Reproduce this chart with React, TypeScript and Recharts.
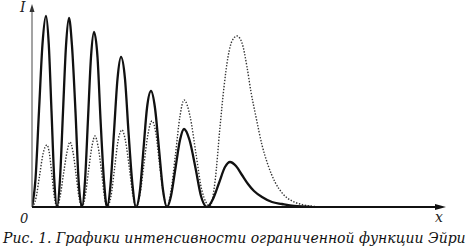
import type { JSX } from "react";

import { Line, LineChart, XAxis, YAxis } from "recharts";

// solid curve: positions along x and intensity
const solidX = [
	0, 3.5, 7, 10.5, 14, 16.75, 19.5, 22.25, 25,
	28, 31, 34, 37, 40, 43.5, 46.5, 50,
	53, 56, 59, 62, 65.5, 68.5, 72, 75,
	78.5, 82, 85.5, 89, 93, 96.5, 100.5, 104,
	108, 111.5, 115, 119, 123, 127, 131, 135,
	139, 143.5, 148, 152, 157.5, 163.5, 169, 175,
	181, 187, 193, 198, 204, 210, 216, 222, 230, 240, 250, 262, 280,
];
const solidI = [
	0, 28, 96, 163, 191, 163, 96, 28, 0,
	28, 95, 161, 189, 161, 95, 28, 0,
	26, 88, 150, 175, 150, 88, 26, 0,
	22, 75, 128, 150, 128, 75, 22, 0,
	17, 58, 99, 116, 99, 58, 17, 0,
	11, 39, 67, 78, 67, 39, 11, 0,
	8, 24, 40, 45, 41, 32, 23, 16, 10, 5, 3, 1, 0,
];

// dotted curve
const dottedX = [
	0, 4, 7.5, 11, 15, 17.5, 20, 22.5, 25,
	28, 31.5, 35, 38, 41, 44, 47, 50,
	53, 56.5, 60, 63, 66, 69.5, 72.5, 75,
	79, 82.5, 86, 90, 93.5, 97.5, 101, 104,
	108, 112, 116, 120, 124, 127.5, 131.5, 135,
	139, 143.5, 148, 152, 158, 164, 170, 178,
	183, 188, 192, 196, 200, 205, 210, 215, 219, 224, 230, 236, 243, 251, 260, 268, 278, 290,
];
const dottedI = [
	0, 9, 31, 53, 62, 53, 31, 9, 0,
	10, 33, 55, 65, 55, 33, 10, 0,
	10, 36, 61, 71, 61, 36, 10, 0,
	11, 38, 66, 77, 66, 38, 11, 0,
	13, 43, 73, 86, 73, 43, 13, 0,
	16, 53, 91, 107, 91, 53, 16, 1,
	25, 80, 120, 150, 166, 171, 164, 140, 115, 90, 62, 42, 25, 13, 6, 3, 1, 0,
];

const caption = "Рис. 1. Графики интенсивности ограниченной функции Эйри";

const solidData = solidX.map((x, i) => ({ x, v: solidI[i] }));
const dottedData = dottedX.map((x, i) => ({ x, v: dottedI[i] }));

const serif = { fontFamily: "'DejaVu Serif', 'Liberation Serif', serif", fontStyle: "italic" };

export default function App(): JSX.Element {
	return (
		<div style={{ height: 251, left: 0, position: "absolute", top: 0, width: 467 }}>
			<LineChart height={251} margin={{ bottom: 44, left: 32, right: 22, top: 5 }} width={467}>
				<XAxis allowDataOverflow dataKey="x" domain={[0, 413]} hide type="number" />
				<YAxis allowDataOverflow domain={[0, 202]} hide type="number" />
				<Line
					data={dottedData}
					dataKey="v"
					dot={false}
					isAnimationActive={false}
					stroke="#333"
					strokeDasharray="1.4 1.6"
					strokeWidth={1.4}
					type="monotone"
				/>
				<Line data={solidData} dataKey="v" dot={false} isAnimationActive={false} stroke="#111" strokeWidth={2.3} type="monotone" />
			</LineChart>
			<svg height={251} style={{ left: 0, pointerEvents: "none", position: "absolute", top: 0 }} width={467}>
				<line stroke="#666" strokeWidth={1.2} x1={32} x2={32} y1={207} y2={10} />
				<polygon fill="#333" points="32,4 29.5,12 34.5,12" />
				<line stroke="#111" strokeWidth={2} x1={32} x2={438} y1={207} y2={207} />
				<polygon fill="#111" points="446,207 435,204 435,210" />
				<text fill="#222" fontSize={14} style={serif} x={20} y={12}>
					I
				</text>
				<text fill="#222" fontSize={13} style={serif} x={20} y={223}>
					0
				</text>
				<text fill="#222" fontSize={14} style={serif} x={435} y={222}>
					x
				</text>
				<text fill="#111" fontSize={14} style={serif} x={3} y={243}>
					{caption}
				</text>
			</svg>
		</div>
	);
}
